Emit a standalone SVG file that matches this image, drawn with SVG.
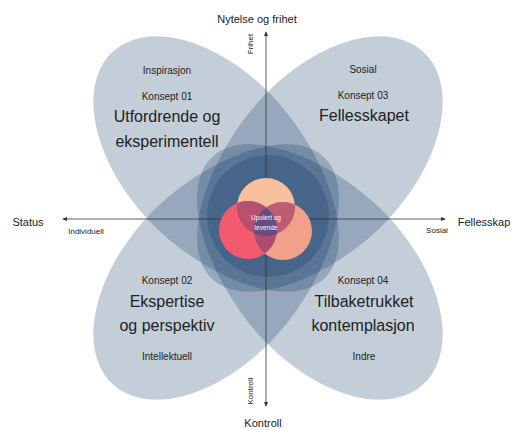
<svg xmlns="http://www.w3.org/2000/svg" width="513" height="430" viewBox="0 0 513 430">
<defs>
<style>
text{font-family:"Liberation Sans",Arial,sans-serif;fill:#222;text-anchor:middle}
.petal{fill:#0a3260;fill-opacity:0.24}
.ax{stroke:#333;stroke-width:0.8;fill:none}
.big{font-size:16px}
.mid{font-size:10px}
.lab{font-size:11px}
.sm{font-size:8px}
.ctr{font-size:6.5px;fill:#fff}
</style>
<path id="egg" d="M223,0 A142,86 0 0 0 81,-86 C5,-86 -81,-48 -81,0 C-81,48 5,86 81,86 A142,86 0 0 0 223,0 Z"/>
<marker id="ah" viewBox="0 0 6 6" refX="5" refY="3" markerWidth="5" markerHeight="5" orient="auto" markerUnits="userSpaceOnUse">
<path d="M0,0.5 L6,3 L0,5.5 Z" fill="#333"/>
</marker>
<clipPath id="cT"><circle cx="266" cy="207" r="29"/></clipPath>
<clipPath id="cL"><circle cx="248" cy="230" r="29"/></clipPath>
</defs>
<g id="petals" transform="translate(268,218) scale(1,1.04)">
<g id="petal-01"><use href="#egg" class="petal" transform="rotate(225)"/></g>
<g id="petal-03"><use href="#egg" class="petal" transform="rotate(-45)"/></g>
<g id="petal-02"><use href="#egg" class="petal" transform="rotate(135)"/></g>
<g id="petal-04"><use href="#egg" class="petal" transform="rotate(45)"/></g>
</g>
<g id="core"><circle class="petal" cx="268" cy="216" r="61"/></g>
<g id="connectors">
<line class="ax" x1="266" y1="219" x2="63" y2="219" marker-end="url(#ah)"/>
<line class="ax" x1="266" y1="219" x2="445" y2="219" marker-end="url(#ah)"/>
<line class="ax" x1="266" y1="219" x2="266" y2="32" marker-end="url(#ah)"/>
<line class="ax" x1="266" y1="219" x2="266" y2="406" marker-end="url(#ah)"/>
</g>
<g id="venn">
<circle cx="266" cy="207" r="29" fill="#f8c09d"/>
<circle cx="248" cy="230" r="29" fill="#f45a6d"/>
<circle cx="283" cy="231" r="29" fill="#f1a08b"/>
<circle cx="248" cy="230" r="29" fill="#b5506f" clip-path="url(#cT)"/>
<circle cx="283" cy="231" r="29" fill="#bc5d74" clip-path="url(#cT)"/>
<circle cx="283" cy="231" r="29" fill="#ad4d6e" clip-path="url(#cL)"/>
<g clip-path="url(#cT)"><circle cx="283" cy="231" r="29" fill="#6a4a82" clip-path="url(#cL)"/></g>
<text class="ctr" x="266" y="220">Upolert og</text>
<text class="ctr" x="266" y="230">levende</text>
</g>
<g id="axis-labels">
<text class="lab" x="257" y="23">Nytelse og frihet</text>
<text class="lab" x="263" y="427">Kontroll</text>
<text class="lab" x="28" y="226">Status</text>
<text class="lab" x="484" y="226">Fellesskap</text>
<text class="sm" x="86" y="234">Individuell</text>
<text class="sm" x="437" y="233">Sosial</text>
<text class="sm" transform="translate(253,44) rotate(-90)">Frihet</text>
<text class="sm" transform="translate(253,391) rotate(-90)">Kontroll</text>
</g>
<g id="concept-01">
<text class="mid" x="167" y="74">Inspirasjon</text>
<text class="mid" x="167" y="100">Konsept 01</text>
<text class="big" x="167" y="122">Utfordrende og</text>
<text class="big" x="167" y="147">eksperimentell</text>
</g>
<g id="concept-03">
<text class="mid" x="363" y="73">Sosial</text>
<text class="mid" x="363" y="99">Konsept 03</text>
<text class="big" x="364" y="121">Fellesskapet</text>
</g>
<g id="concept-02">
<text class="mid" x="167" y="284">Konsept 02</text>
<text class="big" x="167" y="307">Ekspertise</text>
<text class="big" x="167" y="331">og perspektiv</text>
<text class="mid" x="167" y="360">Intellektuell</text>
</g>
<g id="concept-04">
<text class="mid" x="363" y="284">Konsept 04</text>
<text class="big" x="364" y="307">Tilbaketrukket</text>
<text class="big" x="363" y="331">kontemplasjon</text>
<text class="mid" x="364" y="360">Indre</text>
</g>
</svg>
